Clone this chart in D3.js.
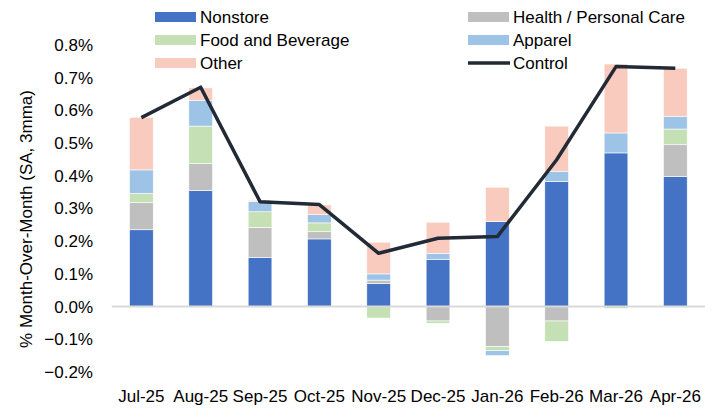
<!DOCTYPE html>
<html>
<head>
<meta charset="utf-8">
<script src="https://cdn.jsdelivr.net/npm/d3@7"></script>
<style>
  body { margin: 0; background: #fff; }
  svg text { font-family: "Liberation Sans", Arial, sans-serif; fill: #000; }
</style>
</head>
<body>
<svg id="chart" width="717" height="408"></svg>
<script>
// values, in %
const months = ["Jul-25", "Aug-25", "Sep-25", "Oct-25", "Nov-25", "Dec-25", "Jan-26", "Feb-26", "Mar-26", "Apr-26"];
const nonstore = [0.235, 0.355, 0.150, 0.207, 0.070, 0.144, 0.260, 0.382, 0.470, 0.398];
const health   = [0.083, 0.082, 0.092, 0.022, 0.011, -0.044, -0.122, -0.044, 0.000, 0.097];
const food     = [0.028, 0.115, 0.048, 0.027, -0.035, -0.007, -0.013, -0.063, -0.006, 0.048];
const apparel  = [0.072, 0.079, 0.032, 0.025, 0.019, 0.018, -0.015, 0.032, 0.061, 0.038];
const other    = [0.161, 0.038, 0.003, 0.030, 0.097, 0.096, 0.105, 0.138, 0.211, 0.148];
const control  = [0.578, 0.671, 0.321, 0.312, 0.163, 0.209, 0.214, 0.449, 0.734, 0.729];
const yTicks = [-0.2, -0.1, 0, 0.1, 0.2, 0.3, 0.4, 0.5, 0.6, 0.7, 0.8];

const seriesNames = ["Nonstore", "Health / Personal Care", "Food and Beverage", "Apparel", "Other"];
const seriesValues = [nonstore, health, food, apparel, other];
const colors = ["#4472C4", "#BFBFBF", "#C5E0B4", "#9DC3E6", "#F8CBBE"];

const fontSize = "17px";
const svg = d3.select("#chart");

const x = d3.scaleBand().domain(months).range([111.7, 705]).paddingInner(0.6).paddingOuter(0.3);
const y = d3.scaleLinear().domain([-0.2, 0.8]).range([372, 45]);

// rows for the stack
const rows = months.map((m, i) => {
    const r = {month: m};
    seriesNames.forEach((s, j) => r[s] = seriesValues[j][i]);
    return r;
});

const stacked = d3.stack()
    .keys(seriesNames)
    .offset(d3.stackOffsetDiverging)(rows);

// y axis labels (no line, no ticks)
const yAxis = svg.append("g")
    .attr("transform", "translate(93,0)")
    .call(d3.axisLeft(y).tickValues(yTicks).tickSize(0).tickPadding(0)
        .tickFormat(d => d3.format(".1f")(d) + "%"));
yAxis.select(".domain").remove();
yAxis.selectAll("text").style("font-size", fontSize).style("font-family", "'Liberation Sans', Arial, sans-serif");

// bars
svg.append("g").selectAll("g")
    .data(stacked)
    .join("g")
    .attr("fill", (d, i) => colors[i])
    .selectAll("rect")
    .data(d => d)
    .join("rect")
    .attr("x", d => x(d.data.month))
    .attr("width", x.bandwidth())
    .attr("y", d => y(Math.max(d[0], d[1])))
    .attr("height", d => Math.abs(y(d[0]) - y(d[1])))
    .attr("stroke", "#fff")
    .attr("stroke-width", 0.6);

// zero line
svg.append("line")
    .attr("x1", 111.7).attr("x2", 705)
    .attr("y1", y(0)).attr("y2", y(0))
    .attr("stroke", "#D9D9D9")
    .attr("stroke-width", 2);

// control line
const line = d3.line()
    .x((d, i) => x(months[i]) + x.bandwidth() / 2)
    .y(d => y(d));
svg.append("path")
    .datum(control)
    .attr("d", line)
    .attr("fill", "none")
    .attr("stroke", "#222A35")
    .attr("stroke-width", 3.5)
    .attr("stroke-linejoin", "round");

// x axis labels
const xAxis = svg.append("g")
    .attr("transform", "translate(0,390)")
    .call(d3.axisBottom(x).tickSize(0).tickPadding(0));
xAxis.select(".domain").remove();
xAxis.selectAll("text").style("font-size", fontSize).style("font-family", "'Liberation Sans', Arial, sans-serif");

// y title
svg.append("text")
    .attr("transform", "translate(32,219) rotate(-90)")
    .attr("text-anchor", "middle")
    .style("font-size", fontSize)
    .text("% Month-Over-Month (SA, 3mma)");

// legend
const legendItems = [
    {name: "Nonstore", col: 0, row: 0, color: colors[0]},
    {name: "Health / Personal Care", col: 1, row: 0, color: colors[1]},
    {name: "Food and Beverage", col: 0, row: 1, color: colors[2]},
    {name: "Apparel", col: 1, row: 1, color: colors[3]},
    {name: "Other", col: 0, row: 2, color: colors[4]},
    {name: "Control", col: 1, row: 2, line: true}
];
const colX = [155, 468];
const lg = svg.append("g").selectAll("g")
    .data(legendItems)
    .join("g")
    .attr("transform", d => `translate(${colX[d.col]},${17 + d.row * 23})`);
lg.filter(d => !d.line).append("rect")
    .attr("x", 0).attr("y", -5)
    .attr("width", 41).attr("height", 10)
    .attr("fill", d => d.color);
lg.filter(d => d.line).append("line")
    .attr("x1", 0).attr("x2", 42)
    .attr("stroke", "#222A35")
    .attr("stroke-width", 3.5);
lg.append("text")
    .attr("x", 45)
    .attr("dy", "0.35em")
    .style("font-size", fontSize)
    .text(d => d.name);
</script>
</body>
</html>
